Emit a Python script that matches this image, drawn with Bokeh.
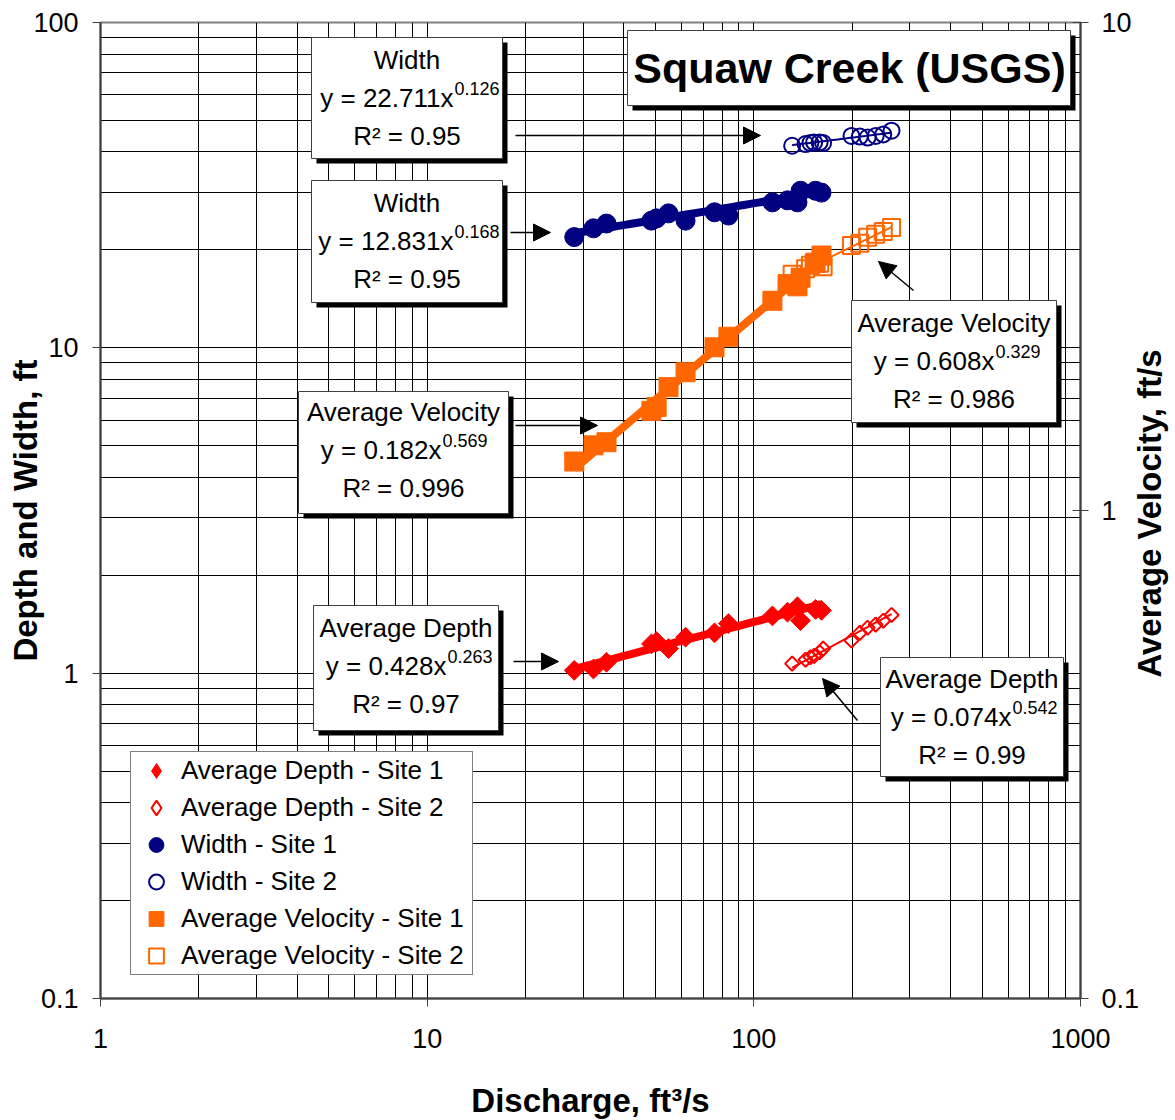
import math
import numpy as np
from bokeh.plotting import figure
from bokeh.models import (Range1d, LogScale, LogAxis, FixedTicker, CustomJSTickFormatter,
                          Legend, LegendItem, Arrow, NormalHead)
from bokeh.core.properties import value
from bokeh.embed import file_html
from bokeh.resources import INLINE

FONT = "Liberation Sans"

# ---------------- data ----------------
q_site1 = [28.2, 32.3, 35.4, 48.6, 50.4, 54.8, 61.8, 75.8, 83.6, 114.0, 126.8, 136.0, 139.0, 154.5, 161.1]
depth_site1 = [1.02, 1.03, 1.08, 1.23, 1.25, 1.19, 1.29, 1.33, 1.42, 1.50, 1.54, 1.60, 1.45, 1.57, 1.56]
width_site1 = [21.9, 23.3, 24.1, 24.6, 25.0, 25.9, 24.6, 26.1, 25.5, 28.0, 28.4, 28.0, 30.4, 30.4, 30.0]
vel_site1 = [1.26, 1.36, 1.38, 1.60, 1.63, 1.79, 1.92, 2.16, 2.27, 2.69, 2.91, 2.88, 3.00, 3.22, 3.33]

q_site2 = [131, 144, 149, 153, 159, 163, 199, 211, 223, 236, 249, 264]
depth_site2 = [1.07, 1.10, 1.12, 1.13, 1.16, 1.19, 1.26, 1.33, 1.38, 1.41, 1.45, 1.51]
width_site2 = [41.8, 42.3, 42.6, 42.8, 42.8, 42.6, 44.8, 44.6, 44.3, 44.8, 45.3, 46.5]
vel_site2 = [3.05, 3.13, 3.18, 3.22, 3.21, 3.16, 3.49, 3.53, 3.63, 3.68, 3.73, 3.80]

# power-law trendlines: depth1, depth2, width1, width2, vel1, vel2
fit_name = ["Average Depth", "Average Depth", "Width", "Width", "Average Velocity", "Average Velocity"]
fit_a = [0.428, 0.074, 12.831, 22.711, 0.182, 0.608]
fit_b = [0.263, 0.542, 0.168, 0.126, 0.569, 0.329]
fit_r2 = [0.97, 0.99, 0.95, 0.95, 0.996, 0.986]

series_labels = ["Average Depth - Site 1", "Average Depth - Site 2", "Width - Site 1",
                 "Width - Site 2", "Average Velocity - Site 1", "Average Velocity - Site 2"]

title_text = "Squaw Creek (USGS)"
x_label = "Discharge, ft³/s"
y_label = "Depth and Width, ft"
y2_label = "Average Velocity, ft/s"

x_major = [1, 10, 100, 1000]
y_major = [0.1, 1, 10, 100]
v_major = [0.1, 1, 10]
x_minor = [m * 10.0 ** e for e in range(0, 3) for m in range(2, 10)]
y_minor = [m * 10.0 ** e for e in range(-1, 2) for m in range(2, 10)]

XR = (1, 1000)
YR = (0.1, 100)
VR = (0.1, 10)

# ---------------- layout helpers (page pixels -> data coords for annotations) -------------
FL, FT, FW, FH = 100, 22, 980, 976


def dx(px):
    lo, hi = math.log10(XR[0]), math.log10(XR[1])
    return 10 ** (lo + (px - FL) / FW * (hi - lo))


def dy(py):
    lo, hi = math.log10(YR[0]), math.log10(YR[1])
    return 10 ** (hi - (py - FT) / FH * (hi - lo))


p = figure(frame_width=FW, frame_height=FH, x_axis_type="log", y_axis_type="log",
           x_range=Range1d(*XR), y_range=Range1d(*YR),
           output_backend="svg", toolbar_location=None,
           min_border_left=100, min_border_right=60, min_border_top=22, min_border_bottom=100,
           background_fill_color="white", border_fill_color="white")

p.extra_y_ranges = {"vel": Range1d(*VR)}
p.extra_y_scales = {"vel": LogScale()}

fmt = CustomJSTickFormatter(code="return tick.toString();")
xa = p.xaxis[0]
ya = p.yaxis[0]
xa.ticker = FixedTicker(ticks=x_major, minor_ticks=x_minor)
ya.ticker = FixedTicker(ticks=y_major, minor_ticks=y_minor)
xa.formatter = fmt
ya.formatter = fmt
ra = LogAxis(y_range_name="vel", ticker=FixedTicker(ticks=v_major), formatter=fmt)
p.add_layout(ra, "right")

xa.axis_label = x_label
ya.axis_label = y_label

for ax in (xa, ya, ra):
    ax.major_label_text_font = FONT
    ax.major_label_text_font_size = "27px"
    ax.major_label_text_color = "black"
    ax.axis_label_text_font = FONT
    ax.axis_label_text_font_size = "33px"
    ax.axis_label_text_font_style = "bold"
    ax.axis_label_text_color = "black"
    ax.axis_line_color = "#404040"
    ax.axis_line_width = 2
    ax.major_tick_line_color = "#404040"
    ax.major_tick_line_width = 1
    ax.major_tick_out = 8
    ax.major_tick_in = 0
    ax.minor_tick_line_color = None

ra.major_tick_in = 8
ya.major_label_standoff = 14
ya.axis_label_standoff = -14
xa.major_label_standoff = 22
xa.axis_label_standoff = 31
ra.major_label_standoff = 13
ra.axis_label_standoff = 7

# right-axis title reads bottom-to-top; the rotated label is anchored at its start,
# so anchor it at the bottom of the axis and pad it with no-break spaces to centre it
right_title = y2_label
try:
    ra.axis_label_orientation = math.pi / 2
    try:
        ra.axis_label_align = "start"
        right_title = "\u00a0" * 35 + y2_label
    except Exception:
        pass
except Exception:
    pass
ra.axis_label = right_title

for g in (p.xgrid[0], p.ygrid[0]):
    g.grid_line_color = "black"
    g.grid_line_width = 1
    g.minor_grid_line_color = "black"
    g.minor_grid_line_width = 1

p.outline_line_color = "#808080"
p.outline_line_width = 2

RED, NAVY, ORANGE = "#FF0000", "#000080", "#FF6600"

# ---------------- markers ----------------
r_d1 = p.scatter(q_site1, depth_site1, marker="square", angle=math.pi / 4, size=14,
                 fill_color=RED, line_color=RED)
r_d2 = p.scatter(q_site2, depth_site2, marker="square", angle=math.pi / 4, size=10,
                 fill_color=None, line_color=RED, line_width=2)
r_w1 = p.scatter(q_site1, width_site1, marker="circle", size=19, fill_color=NAVY, line_color=NAVY)
r_w2 = p.scatter(q_site2, width_site2, marker="circle", size=16, fill_color=None,
                 line_color=NAVY, line_width=2)
r_v1 = p.scatter(q_site1, vel_site1, marker="square", size=19, fill_color=ORANGE,
                 line_color=ORANGE, y_range_name="vel")
r_v2 = p.scatter(q_site2, vel_site2, marker="square", size=17, fill_color=None,
                 line_color=ORANGE, line_width=2, y_range_name="vel")

# legend swatches for the diamond series (nothing drawn in the plot)
nan1 = [float("nan")]
leg_d1 = p.scatter(nan1, nan1, marker="diamond", fill_color=RED, line_color=RED)
leg_d2 = p.scatter(nan1, nan1, marker="diamond", fill_color=None, line_color=RED, line_width=2)

# ---------------- trendlines ----------------
fit_x = [q_site1, q_site2, q_site1, q_site2, q_site1, q_site2]
fit_color = [RED, RED, NAVY, NAVY, ORANGE, ORANGE]
fit_width = [8, 2, 8, 2, 8, 2]
fit_range = ["default", "default", "default", "default", "vel", "vel"]
for xs, a, b, c, w, rn in zip(fit_x, fit_a, fit_b, fit_color, fit_width, fit_range):
    xf = np.geomspace(min(xs), max(xs), 40)
    p.line(xf, a * xf ** b, line_color=c, line_width=w, y_range_name=rn)


# ---------------- text boxes ----------------
def box(l, t, r, b):
    p.quad(left=[dx(l + 5)], right=[dx(r + 5)], top=[dy(t + 5)], bottom=[dy(b + 5)],
           fill_color="black", line_color=None)
    p.quad(left=[dx(l)], right=[dx(r)], top=[dy(t)], bottom=[dy(b)],
           fill_color="white", line_color="#404040", line_width=1)


def txt(px, py, s, size="26px", align="center", bold=False):
    p.text(x=[dx(px)], y=[dy(py)], text=[s], text_font=value(FONT), text_font_size=size,
           text_align=align, text_baseline="middle", text_color="black",
           text_font_style="bold" if bold else "normal")


box_px = [(313, 605, 498, 730), (880, 657, 1063, 776), (311, 180, 502, 302),
          (311, 37, 502, 158), (298, 391, 508, 513), (851, 300, 1056, 422)]
first_line = [627, 678, 202, 59, 411, 322]
eq_end = [446, 1011, 453, 453, 441, 994]
arrow_px = [(513, 661, 558, 661), (857, 720, 822, 678), (510, 232, 550, 232),
            (515, 135, 760, 135), (515, 425, 597, 425), (913, 290, 878, 261)]

for i in range(6):
    l, t, r, b = box_px[i]
    box(l, t, r, b)
    cx = (l + r) / 2
    y0 = first_line[i]
    txt(cx, y0, fit_name[i])
    txt(eq_end[i], y0 + 38, "y = %.3fx" % fit_a[i], align="right")
    txt(eq_end[i] + 1, y0 + 29, "%.3f" % fit_b[i], size="18px", align="left")
    txt(cx, y0 + 76, "R² = %g" % fit_r2[i])
    x0, yy0, x1, yy1 = arrow_px[i]
    p.add_layout(Arrow(x_start=dx(x0), y_start=dy(yy0), x_end=dx(x1), y_end=dy(yy1),
                       line_color="black", line_width=1.5,
                       end=NormalHead(size=17, fill_color="black", line_color="black")))

# title box
box(627, 30, 1070, 105)
txt(849, 67, title_text, size="43px", bold=True)

# ---------------- legend ----------------
legend = Legend(items=[LegendItem(label=lab, renderers=[r]) for lab, r in
                       zip(series_labels, [leg_d1, leg_d2, r_w1, r_w2, r_v1, r_v2])],
                location=(30, 23))
legend.border_line_color = "black"
legend.border_line_width = 1
legend.background_fill_color = "white"
legend.background_fill_alpha = 1
legend.label_text_font = FONT
legend.label_text_font_size = "26px"
legend.label_text_color = "black"
legend.glyph_width = 50
legend.glyph_height = 37
legend.label_height = 30
legend.spacing = 0
legend.padding = 0
legend.label_standoff = -10
legend.label_width = 291
legend.margin = 0
p.add_layout(legend)

open("out.html", "w").write(file_html(p, INLINE))
